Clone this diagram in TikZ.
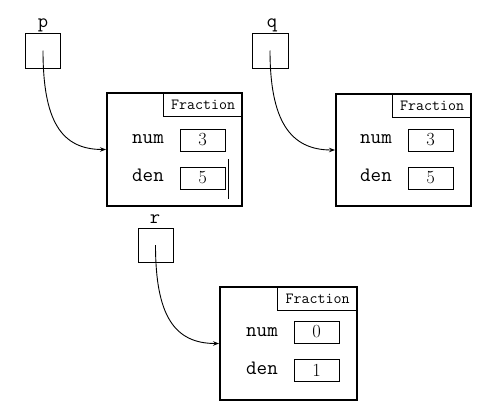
\documentclass[tikz,border=0pt]{standalone}
\usepackage{fontspec}
\usetikzlibrary{arrows.meta}
\newcommand{\heavytt}{\ttfamily\addfontfeatures{FakeBold=0.6}}
\newcommand{\heavyrm}{\rmfamily\addfontfeatures{FakeBold=1}}
\begin{document}
\begin{tikzpicture}[x=1pt,y=-1pt,
 obj/.style={draw, line width=2pt, minimum width=135pt, minimum height=113pt, inner sep=0pt},
 ptr/.style={draw, line width=0.9pt, minimum width=35pt, minimum height=35pt, inner sep=0pt},
 cls/.style={draw, line width=0.9pt, minimum width=79pt, minimum height=24pt, inner sep=0pt, anchor=north east, font=\fontsize{15.5}{17}\selectfont\heavytt},
 val/.style={draw, line width=0.9pt, minimum width=45pt, minimum height=22pt, inner sep=0pt, font=\fontsize{18.5}{20}\selectfont\heavyrm},
 fld/.style={font=\fontsize{20.5}{22}\selectfont\heavytt, anchor=mid},
 vname/.style={font=\fontsize{20}{22}\selectfont\heavytt, anchor=base},
 ref/.style={line width=0.9pt, -{Stealth[length=6pt,width=4.5pt]}}
]
\useasboundingbox (0,0) rectangle (486,415);
% pointer variables
\node[ptr] (p) at (43,50.5) {};
\node[vname] (pl) at (43,27) {p};
\node[ptr, minimum width=36pt] (q) at (270,50.5) {};
\node[vname] (ql) at (272,27) {q};
\node[ptr, minimum height=34pt] (r) at (155.5,245) {};
\node[vname] (rl) at (155,223) {r};
% objects
\node[obj] (F1) at (174.5,149.5) {};
\node[cls] (C1) at (F1.north east) {Fraction};
\node[fld] (n1) at (148,141) {num};
\node[fld] (d1) at (148,179) {den};
\node[val] (nv1) at (202.5,140) {3};
\node[val] (dv1) at (202.5,178) {5};
\coordinate (m1) at (228,159);
\coordinate (m2) at (228,199);
\draw[line width=0.9pt] (m1) -- (m2);

\node[obj, minimum height=112pt] (F2) at (403.5,150) {};
\node[cls] (C2) at (F2.north east) {Fraction};
\node[fld] (n2) at (376,141) {num};
\node[fld] (d2) at (376,179) {den};
\node[val] (nv2) at (430.5,140) {3};
\node[val] (dv2) at (430.5,178) {5};

\node[obj, minimum width=137pt] (F3) at (288.5,343.5) {};
\node[cls, minimum width=80pt] (C3) at (F3.north east) {Fraction};
\node[fld] (n3) at (262,334) {num};
\node[fld] (d3) at (262,372) {den};
\node[val] (nv3) at (316.5,332) {0};
\node[val] (dv3) at (316.5,370.5) {1};
% references
\draw[ref] (p.center) .. controls +(0,70) and +(-45,0) .. (F1.west);
\draw[ref] (q.center) .. controls +(0,70) and +(-45,0) .. (F2.west);
\draw[ref] (r.center) .. controls +(0,70) and +(-45,0) .. (F3.west);
\end{tikzpicture}
\end{document}
